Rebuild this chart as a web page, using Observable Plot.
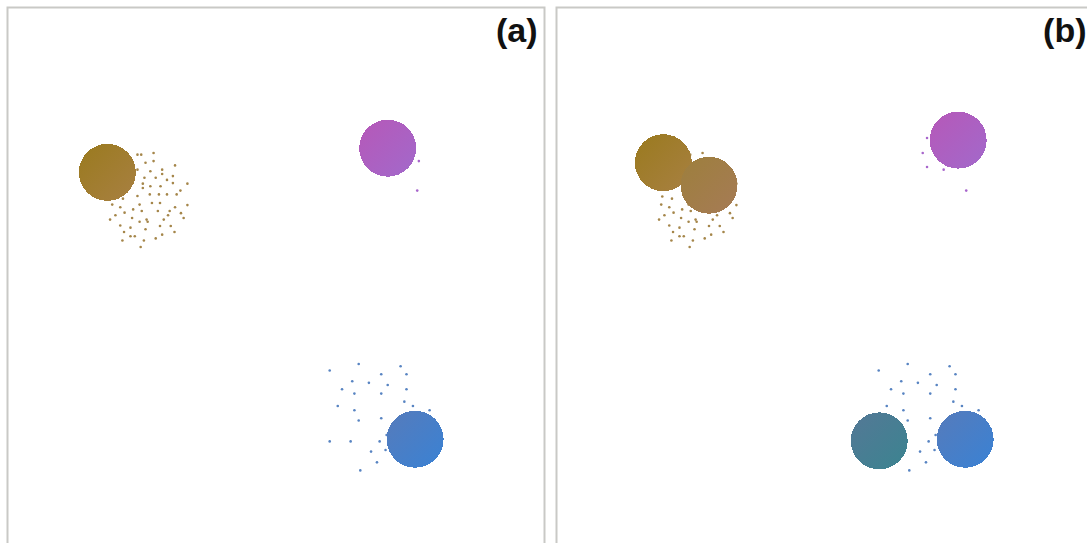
<!DOCTYPE html>
<html>
<head>
<meta charset="utf-8">
<script src="https://cdn.jsdelivr.net/npm/d3@7"></script>
<script src="https://cdn.jsdelivr.net/npm/@observablehq/plot@0.6"></script>
<style>
  html, body { margin: 0; padding: 0; background: #fff; overflow: hidden; }
  #chart svg { display: block; max-width: none !important; height: auto; }
</style>
</head>
<body>
<div id="chart"></div>
<script>
// Panels
const panels = ["a", "b"];

// Sample points (shared by both panels), in a 0–100 coordinate space
const goldX = [24.2,24.9,27.2,25.7,27.2,28.8,28.8,31.2,24.2,26.6,30.8,25.5,27.6,29.7,25.2,25.2,26.6,28.5,30.8,33.5,32.2,24.2,26.5,28.2,29.7,31.5,21.5,26.9,28.4,24.6,19.5,31.2,33.5,21.0,23.4,21.8,25.0,28.0,30.2,32.3,20.1,23.2,25.9,29.9,32.8,19.1,24.6,26.1,29.1,21.0,28.4,30.4,22.9,25.7,21.7,31.1,22.9,23.7,28.8,21.4,25.4,27.6,24.8,19.7];
const goldY = [72.6,72.6,72.9,71.1,71.4,69.8,69.0,70.6,69.8,69.5,68.6,68.3,68.3,67.9,67.2,66.4,66.7,66.7,67.3,67.2,65.9,64.9,65.2,65.2,65.2,65.2,64.4,63.6,63.6,63.3,63.3,62.8,63.2,62.8,62.4,61.8,62.1,62.1,62.1,61.7,61.3,60.8,60.5,61.3,60.8,60.5,60.1,60.1,60.5,59.4,59.3,59.3,59.0,58.7,58.2,58.2,57.4,57.4,57.7,56.6,56.6,57.0,55.4,64.8];

const violetX = [76.6,76.3,69.0,68.2,69.0,72.1];
const violetY = [71.4,65.9,75.7,72.9,70.3,69.8];

const blueX = [65.4,60.0,73.2,69.6,74.3,64.2,67.3,70.8,62.3,64.6,69.6,74.3,73.9,75.5,78.6,61.5,64.6,65.4,69.6,60.0,63.9,69.3,70.4,67.7,68.8,65.7,70.6];
const blueY = [33.6,32.4,33.2,31.7,31.7,30.4,30.1,29.7,28.9,28.1,28.1,28.9,26.6,25.8,25.0,25.8,25.0,23.1,23.5,19.2,19.2,19.2,17.6,17.3,15.3,13.8,20.4];

// Cluster centres per panel
const centerPanel = ["a", "a", "a", "b", "b", "b", "b", "b"];
const centerX = [18.6, 70.8, 75.9, 19.9, 28.4, 74.8, 60.1, 76.1];
const centerY = [69.3, 73.8, 19.6, 71.1, 66.9, 75.3, 19.3, 19.6];
const centerGroup = ["ochre", "lilac", "cobalt", "ochre", "sand", "lilac", "petrol", "cobalt"];

const zip = (xs, ys) => xs.map((x, i) => ({x, y: ys[i]}));
const goldPts = zip(goldX, goldY);
const violetPts = zip(violetX, violetY);
const bluePts = zip(blueX, blueY);
const centers = centerX.map((x, i) => ({panel: centerPanel[i], x, y: centerY[i], group: centerGroup[i]}));

const groups = ["ochre", "sand", "lilac", "petrol", "cobalt"];
const gradientStops = {
  ochre: ["#9a7a1e", "#a88042"],
  sand: ["#9d7f3c", "#a67b56"],
  lilac: ["#b658b8", "#a269cb"],
  petrol: ["#547896", "#3b8490"],
  cobalt: ["#567bbb", "#3a82d4"]
};

const chart = Plot.plot({
  width: 1100,
  height: 551,
  marginLeft: 7,
  marginRight: 7,
  marginTop: 7,
  marginBottom: 7,
  fx: {domain: panels, axis: null, paddingInner: 12 / 549, paddingOuter: 0, round: false},
  x: {domain: [0, 100], axis: null},
  y: {domain: [0, 100], axis: null},
  color: {type: "ordinal", domain: groups, range: groups.map(g => `url(#fill-${g})`)},
  marks: [
    Plot.frame({stroke: "#c9c9c6", strokeWidth: 2}),
    Plot.dot(goldPts, {x: "x", y: "y", r: 1.3, fill: "#a5864a", stroke: "none"}),
    Plot.dot(violetPts, {x: "x", y: "y", r: 1.3, fill: "#a866cc", stroke: "none"}),
    Plot.dot(bluePts, {x: "x", y: "y", r: 1.3, fill: "#5884c2", stroke: "none"}),
    Plot.dot(centers, {fx: "panel", x: "x", y: "y", r: 28.5, fill: "group", stroke: "none", shapeRendering: "crispEdges"}),
    Plot.text(panels, {
      fx: d => d,
      text: d => `(${d})`,
      frameAnchor: "top-right",
      lineAnchor: "top",
      dx: -7,
      dy: 10,
      fontSize: 34,
      fontWeight: "bold",
      fontFamily: "Liberation Sans, Arial, sans-serif",
      fill: "#111"
    })
  ]
});

const svg = chart.tagName.toLowerCase() === "svg" ? chart : chart.querySelector("svg");
svg.style.maxWidth = "none";
const defs = groups.map(g => {
  const [c0, c1] = gradientStops[g];
  return `<linearGradient id="fill-${g}" x1="0" y1="0" x2="1" y2="1">` +
         `<stop offset="0" stop-color="${c0}"/><stop offset="1" stop-color="${c1}"/></linearGradient>`;
}).join("");
svg.insertAdjacentHTML("afterbegin", `<defs>${defs}</defs>`);
document.getElementById("chart").appendChild(chart);
</script>
</body>
</html>
